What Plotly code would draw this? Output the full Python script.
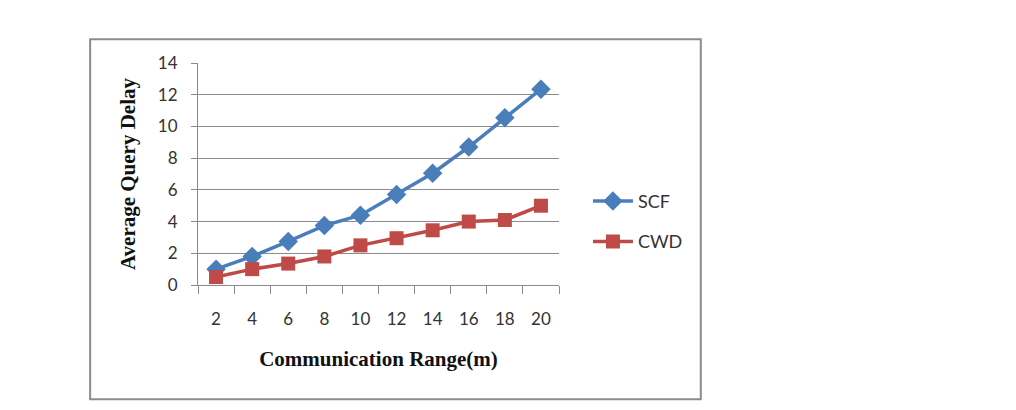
import plotly.graph_objects as go

categories = ["2", "4", "6", "8", "10", "12", "14", "16", "18", "20"]
scf = [1.0, 1.8, 2.75, 3.75, 4.4, 5.7, 7.05, 8.7, 10.55, 12.35]
cwd = [0.5, 1.0, 1.35, 1.8, 2.5, 2.95, 3.45, 4.0, 4.1, 5.0]

blue = "#4a7ebb"
red = "#be4b48"
grid = "#8a8a8a"

fig = go.Figure()
fig.add_trace(go.Scatter(x=categories, y=scf, name="SCF", mode="lines+markers",
                         legendgroup="a",
                         line=dict(color=blue, width=3.5),
                         marker=dict(symbol="diamond", size=15, color=blue)))
fig.add_trace(go.Scatter(x=categories, y=cwd, name="CWD", mode="lines+markers",
                         legendgroup="b",
                         line=dict(color=red, width=3.5),
                         marker=dict(symbol="square", size=14, color=red)))

OFF = 8  # default page body margin
L, R, T, B = 197.5 - OFF, 559 - OFF, 63.3 - OFF, 285 - OFF
W, H = 1016, 410
pw, ph = R - L, B - T

def px(x):
    return (x - OFF - L) / pw

def py(y):
    return (B - (y - OFF)) / ph

fig.update_layout(
    width=W, height=H,
    margin=dict(l=L, r=W - R, t=T, b=H - B, pad=0),
    paper_bgcolor="white", plot_bgcolor="white",
    font=dict(family="Lato, Open Sans, sans-serif", size=17, color="#333333"),
    legend=dict(x=px(588), y=py(183), xanchor="left", yanchor="top",
                font=dict(size=18, color="#333333"), tracegroupgap=14,
                traceorder="grouped", itemwidth=40, bgcolor="rgba(0,0,0,0)"),
    shapes=[dict(type="rect", xref="paper", yref="paper",
                 x0=px(89.5), x1=px(701), y0=py(399), y1=py(39.5),
                 line=dict(color="#8c8c8c", width=2), fillcolor="rgba(0,0,0,0)",
                 layer="below")],
)
fig.update_xaxes(type="category", range=[-0.5, 9.5], tickson="boundaries",
                 ticks="outside", ticklen=8, tickcolor=grid, showline=True,
                 linecolor=grid, linewidth=1, showgrid=False,
                 ticklabelstandoff=19,
                 tickfont=dict(size=17, color="#333333"),
                 title=dict(text="Communication Range(m)", standoff=22,
                            font=dict(family="Liberation Serif, Times New Roman, serif",
                                      size=21, color="#111111", weight="bold")))
fig.update_yaxes(range=[0, 14], dtick=2, ticks="outside", ticklen=6, tickcolor=grid,
                 showline=True, linecolor=grid, linewidth=1, showgrid=True,
                 gridcolor=grid, gridwidth=1, zeroline=False,
                 ticklabelstandoff=10,
                 tickfont=dict(size=17, color="#333333"),
                 title=dict(text="Average Query Delay", standoff=16,
                            font=dict(family="Liberation Serif, Times New Roman, serif",
                                      size=21, color="#111111", weight="bold")))

fig.write_html("out.html")
